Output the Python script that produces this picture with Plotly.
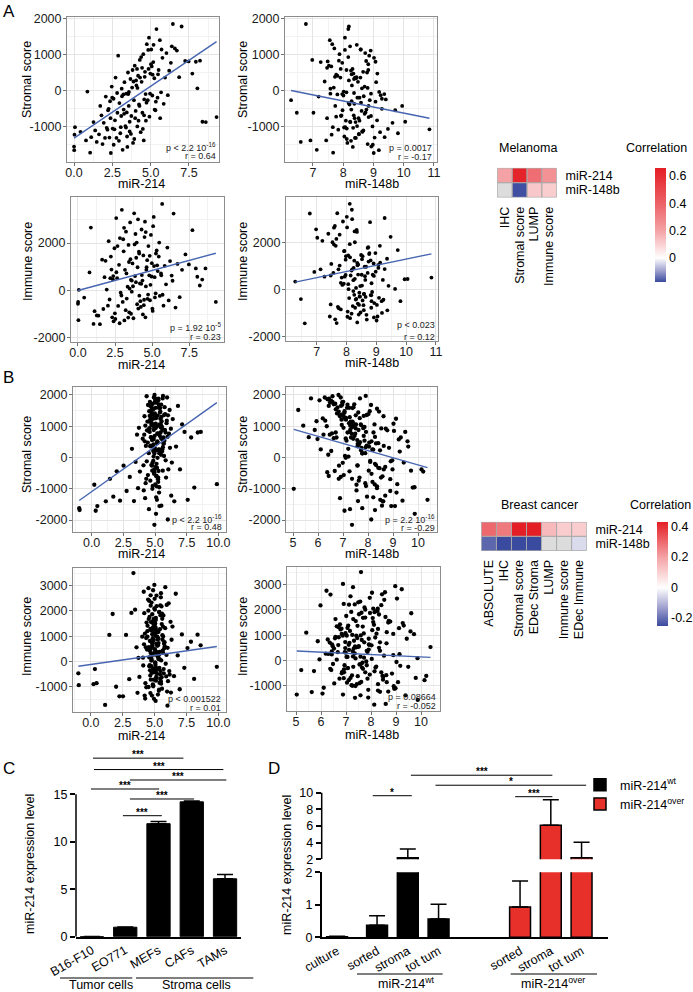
import numpy as np
import plotly.graph_objects as go

W, H = 693, 992
FONT = "Liberation Sans, Arial, sans-serif"

# ---------------- A: melanoma samples ----------------
mel_mir214 = [
    0.00, 0.03, 0.01, 0.06, 0.42, 0.78, 0.87, 1.12, 1.27, 1.48,
    1.63, 1.71, 1.86, 1.94, 2.07, 2.13, 2.22, 2.31, 2.38, 2.46,
    2.52, 2.58, 2.64, 2.71, 2.77, 2.83, 2.88, 2.96, 3.02, 3.08,
    3.13, 3.17, 3.24, 3.29, 3.35, 3.41, 3.46, 3.52, 3.57, 3.63,
    3.68, 3.74, 3.79, 3.85, 3.91, 3.96, 4.02, 4.07, 4.13, 4.18,
    4.24, 4.29, 4.35, 4.41, 4.46, 4.52, 4.58, 4.63, 4.69, 4.75,
    4.81, 4.86, 4.92, 4.98, 5.04, 5.11, 5.17, 5.24, 5.31, 5.38,
    5.45, 5.52, 5.60, 5.68, 5.77, 5.85, 5.94, 6.03, 6.12, 6.21,
    6.32, 6.45, 6.58, 6.71, 6.86, 7.02, 7.25, 7.48, 7.72, 7.95,
    8.05, 8.22, 8.38, 8.60, 9.30, 1.05, 2.40, 3.48, 4.55, 5.62,
    2.18, 2.49, 2.67, 2.93, 3.11, 3.27, 3.39, 3.54, 3.71, 3.88,
    3.99, 4.11, 4.27, 4.38, 4.49, 4.61, 4.73, 4.84, 4.96, 5.07,
    5.19, 5.34, 5.48, 3.22, 3.63, 4.05, 4.44, 2.59, 2.81, 3.44,
    3.82, 4.21, 4.67, 5.02, 2.35, 3.05, 3.58, 4.31, 4.89, 5.26,
    1.38, 1.79, 2.02, 2.26, 3.93, 4.14, 4.57, 5.13, 5.71, 6.38]
mel_stromal = [
    -1550, -1220, -1650, -1010, -1140, -1380, -20, -1290, -870, -1420,
    -1210, -420, -1480, -890, -160, -1030, -540, -1300, -760, 120,
    -1050, -220, -1070, 370, -1310, -610, 980, -340, -1180, -700,
    -150, -1640, -520, 240, -980, -80, -1270, 510, -420, -860,
    330, -700, 90, -1450, -260, 700, -560, 150, -990, 420,
    -380, 860, -1150, 250, -610, 1020, -240, 530, -830, 1300,
    -260, 610, -720, 480, 1150, -130, 800, 350, -540, 1720,
    -190, 580, 1410, -40, 920, -360, 370, 1050, -120, 560,
    780, 1860, 1180, 1120, 380, 1790, 830, 820, 480, 810,
    70, 840, -860, -870, -730, -1720, -1730, -1560, -1380, -760,
    -1080, -190, -820, -1390, 60, -640, -1020, -90, -1200, 260,
    -760, 610, -420, 940, -1060, 390, -330, 1140, -80, 680,
    1280, -300, 460, -100, -1130, 290, 640, -1500, -60, -600,
    580, -830, -90, 740, -290, -1010, -30, 370, 1480, -520,
    -1100, -680, -1310, -500, -1340, 80, -680, 450, 1150, 1240]
mel_mir148b = [
    8.93, 7.62, 9.18, 8.07, 8.64, 6.92, 8.02, 9.37, 8.41, 6.60,
    8.52, 7.74, 8.81, 9.63, 7.19, 8.33, 7.98, 9.04, 7.47, 8.71,
    8.12, 9.28, 10.85, 8.57, 8.39, 7.02, 8.86, 8.18, 9.81, 7.93,
    8.68, 7.13, 8.27, 9.09, 8.46, 7.58, 8.04, 8.79, 9.95, 8.23,
    8.36, 8.92, 7.69, 8.14, 6.28, 7.53, 8.61, 8.29, 8.97, 7.81,
    8.21, 6.98, 9.22, 8.49, 6.47, 7.88, 9.41, 8.66, 8.09, 7.64,
    8.88, 8.31, 7.77, 9.13, 8.58, 8.01, 7.26, 8.43, 9.72, 8.17,
    8.54, 8.83, 7.56, 8.11, 9.02, 8.37, 7.91, 8.73, 9.24, 8.26,
    7.97, 6.77, 7.71, 8.91, 8.44, 8.19, 8.76, 7.49, 8.34, 9.07,
    8.62, 7.86, 10.05, 8.24, 8.84, 7.67, 9.01, 8.32, 7.44, 8.51,
    7.84, 8.47, 9.12, 8.26, 7.58, 8.71, 8.03, 9.36, 8.52, 7.39,
    8.38, 7.92, 8.84, 8.17, 9.48, 7.73, 8.59, 8.06, 8.92, 7.61,
    8.45, 9.07, 8.28, 7.81, 8.63, 8.19, 7.47, 8.98, 8.36, 8.74,
    8.11, 8.54, 7.97, 8.83, 8.28, 7.66, 9.19, 8.39, 8.06, 8.77,
    8.67, 7.94, 8.42, 9.28, 8.12, 8.81, 8.35, 7.77, 8.58, 8.23]
mel_immune = [
    -560, -1250, -480, 30, -300, 760, 2650, -870, -1050, -1420,
    1300, -780, 1250, 40, 2080, -380, 1430, -1130, 610, 1780,
    -1200, 3050, 520, -650, 1080, 2210, -90, 3400, -480, 1650,
    -1260, 870, 2480, -340, 160, 1920, -920, 2870, 450, -50,
    1140, -1170, 3250, 610, 350, 2020, 980, -760, 1560, 300,
    -690, 2570, 420, 1480, -390, 2900, 170, 980, -350, 1870,
    640, -410, 2340, 1150, -860, 3100, 560, -120, 1690, 820,
    1430, -230, 720, 3650, -640, 1040, 260, 1810, -420, 1240,
    630, 3240, -720, 1120, -280, 870, 1520, 1100, 2540, 930,
    580, 210, 460, 930, -480, -1410, -1300, 80, -1130, 640,
    520, -960, 1870, -210, 2640, 720, -1140, 1320, 180, 2380,
    -580, 1640, 280, -1010, 2250, 870, -170, 1460, 590, 2710,
    -290, 1060, 2020, -830, 420, 3000, -620, 770, -1380, 1200,
    1940, -450, 1280, -760, 470, 2160, -980, 650, 240, 1560,
    -1060, 560, -640, 880, 1380, -220, 2460, 1030, -180, 410]

# ---------------- B: breast cancer samples ----------------
brca_mir214 = [
    4.62, 5.13, 4.87, 5.41, 4.35, 5.78, 4.98, 5.25, 4.71, 5.56,
    5.07, 4.44, 5.69, 4.93, 5.32, 4.15, 6.02, 4.76, 5.18, 5.87,
    4.54, 5.47, 4.82, 5.95, 4.28, 5.03, 5.61, 4.67, 5.29, 6.18,
    4.09, 5.36, 4.95, 5.74, 4.49, 5.15, 4.73, 5.52, 6.25, 4.89,
    5.22, 4.58, 5.84, 4.31, 5.01, 5.66, 4.80, 5.39, 4.19, 5.93,
    4.66, 5.10, 4.40, 5.58, 4.96, 5.33, 6.10, 4.84, 5.71, 4.24,
    5.49, 4.70, 5.05, 4.11, 5.80, 4.51, 5.26, 6.33, 4.90, 5.63,
    4.98, 5.17, 4.63, 5.42, 4.86, 5.76, 4.37, 5.09, 5.54, 4.74,
    5.28, 4.45, 5.91, 4.81, 5.14, 4.26, 5.67, 5.00, 4.57, 6.05,
    4.03, 5.35, 4.93, 5.60, 4.69, 5.20, 6.15, 4.43, 5.83, 5.06,
    4.79, 5.45, 4.17, 5.12, 4.60, 5.72, 4.88, 5.31, 4.34, 5.98,
    -0.98, -0.95, 0.32, 0.45, 0.21, 1.12, 1.45, 1.71, 1.98, 2.24,
    2.52, 2.76, 3.01, 3.18, 3.34, 3.47, 3.58, 3.66, 3.73, 3.81,
    6.40, 6.52, 6.66, 6.81, 6.97, 7.14, 7.33, 7.58, 7.85, 8.10,
    8.37, 8.61, 9.88, 4.95, 6.01, 4.52, 6.28, 5.08, 4.22, 5.50,
    4.58, 5.21, 4.92, 5.46, 4.83, 5.11, 4.67, 5.38, 5.02, 4.75,
    5.30, 4.88, 5.15, 4.71, 5.55, 4.99, 5.24, 4.53, 5.62, 5.09,
    4.81, 5.36, 4.64, 5.18, 4.94, 5.51, 4.76, 5.27, 5.04, 4.86,
    5.42, 4.97, 5.13, 4.69, 5.33, 4.91, 5.58, 4.78, 5.06, 5.19,
    4.72, 5.25, 4.85, 5.44, 5.00, 4.62, 5.31, 5.12, 4.89, 5.67,
    5.03, 4.95, 5.37, 4.81, 5.16, 4.55, 5.49, 5.08, 4.74, 5.29]
brca_stromal = [
    1210, -340, 620, 1580, -120, 880, 310, -780, 1040, 190,
    1760, -560, 450, 980, -1120, 730, 1350, -260, 520, -640,
    1480, 90, -910, 1920, 370, 1290, -420, 650, 1700, 310,
    -250, 1060, -470, 540, 850, -1350, 1600, 1160, 920, 30,
    770, 1330, -90, -680, 1890, 640, -170, 1440, 520, 1180,
    380, -600, 1150, 260, 2000, -950, 760, 1560, 50, 1020,
    1690, 640, -300, -1050, 1390, 140, 1830, -160, 880, 1970,
    1320, 460, -740, 1240, 210, 1610, 870, -1270, 590, 1430,
    -430, 1680, 1100, 350, 1000, -820, 440, 1770, 930, -380,
    600, -1550, 1250, 1890, 1470, -10, 1520, 480, 800, 1080,
    -1000, 960, 1320, -590, 1780, 1360, 580, 230, 1960, 660,
    -1620, -1680, -1700, -1550, -870, -1400, -680, -1250, -440, -1380,
    -260, -1070, -620, 280, -1390, -140, 730, -980, 950, -450,
    1230, -1400, 350, 1650, -380, 1060, 820, -1350, 640, -960,
    800, 820, -850, -2150, -1980, -1650, -1220, -1800, -1300, -1540,
    820, 1340, -520, 1060, 1720, 230, 1480, 690, -860, 1210,
    1590, 420, 1860, -240, 980, 1410, -690, 1150, 330, 1780,
    1030, 250, 1650, 760, -380, 1300, 560, 1880, 940, -110,
    1470, 690, -920, 1270, 140, 1920, 880, -420, 1590, 490,
    1110, -640, 1540, 800, 1360, 360, 1690, -200, 1060, 540,
    1820, 130, 1020, 1380, -330, 930, 610, 1260, 1700, 260]
brca_mir148b = [
    7.12, 8.46, 6.63, 7.38, 8.91, 5.87, 7.74, 8.18, 6.95, 9.27,
    6.48, 7.03, 8.32, 7.86, 9.14, 6.22, 7.51, 6.84, 9.58, 7.66,
    8.07, 6.41, 7.92, 6.91, 8.63, 7.27, 9.72, 5.63, 7.45, 8.84,
    7.58, 8.26, 6.37, 7.14, 9.04, 8.49, 6.78, 5.94, 8.71, 7.22,
    6.56, 7.83, 8.97, 7.36, 5.72, 9.31, 6.99, 7.61, 8.14, 6.29,
    7.95, 8.58, 7.31, 6.11, 6.82, 9.86, 7.49, 8.36, 7.08, 5.41,
    7.18, 6.74, 8.69, 7.54, 8.02, 7.77, 6.06, 9.43, 7.29, 7.91,
    6.88, 8.41, 7.63, 9.12, 6.53, 7.42, 8.77, 8.21, 5.98, 7.06,
    6.67, 8.12, 7.24, 9.61, 6.35, 7.89, 7.59, 6.97, 8.53, 10.14,
    7.41, 8.93, 6.19, 7.68, 8.44, 7.11, 5.21, 8.05, 6.71, 9.02,
    5.03, 7.35, 8.62, 6.43, 7.01, 6.92, 9.23, 7.72, 6.58, 8.28,
    7.77, 8.28, 7.06, 9.08, 7.54, 8.59, 6.83, 7.96, 7.26, 9.38,
    7.58, 8.89, 6.91, 7.21, 7.60, 8.09, 6.47, 8.36, 7.02, 10.21,
    7.09, 8.61, 8.04, 6.43, 8.98, 7.71, 9.49, 10.38, 7.32, 9.79,
    8.22, 7.92, 9.17, 7.36, 8.13, 7.28, 8.69, 9.87, 6.88, 8.56,
    7.28, 6.87, 8.14, 7.52, 6.69, 8.48, 7.06, 7.83, 8.27, 6.94,
    7.16, 7.64, 6.38, 8.32, 7.47, 6.76, 8.89, 7.38, 7.91, 6.58,
    7.73, 8.21, 6.92, 7.35, 8.63, 7.04, 7.57, 6.44, 7.81, 8.09,
    6.83, 7.46, 8.36, 7.12, 7.89, 6.27, 7.62, 8.03, 7.25, 7.68,
    7.39, 8.52, 6.71, 7.18, 7.95, 7.58, 6.97, 8.28, 7.43, 7.86,
    6.52, 7.77, 7.29, 6.98, 8.41, 7.51, 7.11, 7.67, 6.63, 8.17]
brca_immune = [
    420, -610, 1350, 80, -1020, 760, 2100, -280, 330, 1480,
    -140, 980, 1820, -720, 250, 2760, 540, -460, 1150, -90,
    1680, -380, 620, 2240, -860, 370, 1040, -1250, 890, -520,
    150, 1960, -330, 700, 2450, -640, 1230, 40, 1570, -980,
    880, -190, 2940, 560, -420, 1380, 310, -850, 1910, 260,
    -560, 1720, 470, -1080, 1260, 90, 2300, 720, -300, 1100,
    2540, -720, 1500, -160, 600, 2010, -1310, 860, 1640, 430,
    3030, -470, 810, 1280, -910, 520, 1540, -240, 2180, 140,
    330, 1410, -590, 1870, 710, -1470, 990, 490, 2400, -780,
    980, -1120, 270, 1690, 2620, 620, -380, 1200, 1320, -60,
    -1350, 2220, 680, 360, 1760, -470, 2820, 110, 930, -1190,
    -470, -940, -300, -860, -900, -1720, 1050, 1880, -1000, -1380,
    -1380, 1050, -700, 1920, 3500, 2050, 560, -1240, 140, -610,
    1380, -580, 2680, 240, -1100, 1070, -250, 530, 780, -690,
    1060, 640, -210, -1480, -1750, 2900, -1230, -1560, -1350, 2700,
    160, 980, -430, 1830, 610, -760, 1290, 380, 2050, -190,
    1170, -280, 2610, 500, -620, 1430, 210, -1010, 860, 1640,
    720, 1950, -350, 280, 1120, -880, 2330, 640, -40, 1520,
    -510, 1370, 380, 2210, -1160, 830, 1890, 60, 1010, -330,
    1560, 190, 920, -690, 2480, -150, 730, 1250, -940, 340,
    470, 1700, -250, 1080, 2190, 570, -780, 1340, 30, 910]

# fitted lines (intercept, slope)
fit_mel_stromal_214 = (-1317, 289)
fit_mel_stromal_148b = (1071, -169)
fit_mel_immune_214 = (0, 169)
fit_mel_immune_148b = (-1315, 262)
fit_brca_stromal_214 = (-1092, 288)
fit_brca_stromal_148b = (2050, -228.5)
fit_brca_immune_214 = (-121, 72)
fit_brca_immune_148b = (616, -47.4)

stats_p = ["p < 2.2 10<sup>-16</sup>", "p = 0.0017", "p = 1.92 10<sup>-5</sup>", "p < 0.023",
           "p < 2.2 10<sup>-16</sup>", "p = 2.2 10<sup>-16</sup>", "p < 0.001522", "p = 0.08664"]
stats_r = ["r = 0.64", "r = -0.17", "r = 0.23", "r = 0.12",
           "r = 0.48", "r = -0.29", "r = 0.01", "r = -0.052"]

# correlation heatmaps
mel_cols = ["IHC", "Stromal score", "LUMP", "Immune score"]
mel_corr_214 = [0.20, 0.64, 0.36, 0.25]
mel_corr_148b = [None, -0.17, 0.12, 0.11]
brca_cols = ["ABSOLUTE", "IHC", "Stromal score", "EDec Stroma", "LUMP", "Immune score", "EDec Immune"]
brca_corr_214 = [0.30, 0.27, 0.45, 0.46, 0.15, 0.11, 0.11]
brca_corr_148b = [-0.21, -0.27, -0.28, -0.29, None, None, -0.05]
heat_rows = ["miR-214", "miR-148b"]

# C: miR-214 in cell lines
c_cells = ["B16-F10", "EO771", "MEFs", "CAFs", "TAMs"]
c_expr = [0.01, 1.0, 11.9, 14.2, 6.1]
c_err = [0.0, 0.03, 0.22, 0.08, 0.45]

# D: sorted stroma / tumours
d_wt_labels = ["culture", "sorted", "stroma", "tot tum"]
d_wt_expr = [0.02, 0.37, 2.2, 0.56]
d_wt_err = [0.01, 0.29, 1.04, 0.46]
d_over_labels = ["sorted", "stroma", "tot tum"]
d_over_expr = [0.93, 6.1, 2.2]
d_over_err = [0.80, 3.05, 1.85]


# ---------------- helpers ----------------
def dom_x(a, b):
    return [a / W, b / W]


def dom_y(top, bottom):
    return [1 - bottom / H, 1 - top / H]


annotations = []
shapes = []


def text(t, x, y, size=12.5, color="black", **kw):
    d = dict(text=t, x=x / W, y=1 - y / H, xref="paper", yref="paper", showarrow=False,
             xanchor="center", yanchor="middle", font=dict(size=size, family=FONT, color=color))
    d.update(kw)
    annotations.append(d)


def pline(x0, x1, y, width=1):
    shapes.append(dict(type="line", xref="paper", yref="paper", x0=x0 / W, x1=x1 / W,
                       y0=1 - y / H, y1=1 - y / H, line=dict(color="black", width=width)))


def grid_axis(ticks, labels, standoff=0):
    step = ticks[1] - ticks[0]
    minor = [ticks[0] - step / 2] + [t + step / 2 for t in ticks]
    return dict(tickvals=ticks, ticktext=labels, showgrid=True, gridcolor="#E4E4E4", gridwidth=0.8,
                minor=dict(tickvals=minor, showgrid=True, gridcolor="#F2F2F2", gridwidth=0.6),
                showline=True, mirror=True, linecolor="#8C8C8C", linewidth=1,
                ticks="outside", ticklen=3, tickcolor="#707070", tickwidth=1, automargin=False,
                ticklabelstandoff=standoff,
                tickfont=dict(size=12.5, color="#1A1A1A", family=FONT), zeroline=False)


fig = go.Figure()
lay = dict(template="none", width=W, height=H, autosize=False, margin=dict(l=0, r=0, t=0, b=0, pad=0),
           paper_bgcolor="white", plot_bgcolor="white", barmode="overlay",
           font=dict(family=FONT, size=12.5, color="black"))

t_a_top = [-1000, 0, 1000, 2000]
t_a_bot = [-2000, 0, 2000]
t_b_top = [-2000, -1000, 0, 1000, 2000]
t_b_bot = [-1000, 0, 1000, 2000, 3000]
x214_a = ([0, 2.5, 5, 7.5], ["0.0", "2.5", "5.0", "7.5"])
x148_a = ([7, 8, 9, 10, 11], ["7", "8", "9", "10", "11"])
x214_b = ([0, 2.5, 5, 7.5, 10], ["0.0", "2.5", "5.0", "7.5", "10.0"])
x148_b = ([5, 6, 7, 8, 9, 10], ["5", "6", "7", "8", "9", "10"])

panels = [
    dict(x=mel_mir214, y=mel_stromal, fit=fit_mel_stromal_214, xpx=(67, 219), ypx=(17, 162),
         xr=(-0.46, 9.46), yr=(-1980, 2055), xt=x214_a, yt=t_a_top, xl="miR-214", yl="Stromal score",
         xlp=(141.7, 184), ylp=(27, 80), st=(218, 146.7, 155.7), ms=3.8),
    dict(x=mel_mir148b, y=mel_stromal, fit=fit_mel_stromal_148b, xpx=(285, 437), ypx=(17, 162),
         xr=(6.08, 11.1), yr=(-1980, 2055), xt=x148_a, yt=t_a_top, xl="miR-148b", yl="Stromal score",
         xlp=(371.7, 184), ylp=(243, 80), st=(434.3, 147.7, 157.3), ms=3.8),
    dict(x=mel_mir214, y=mel_immune, fit=fit_mel_immune_214, xpx=(71, 224), ypx=(197, 342),
         xr=(-0.47, 9.85), yr=(-2170, 3940), xt=x214_a, yt=t_a_bot, xl="miR-214", yl="Immune score",
         xlp=(141.7, 365), ylp=(28, 262), st=(222.7, 327.3, 337.3), ms=3.8),
    dict(x=mel_mir148b, y=mel_immune, fit=fit_mel_immune_148b, xpx=(286, 438), ypx=(197, 341),
         xr=(5.97, 11.07), yr=(-2170, 3940), xt=x148_a, yt=t_a_bot, xl="miR-148b", yl="Immune score",
         xlp=(371.7, 363), ylp=(243, 262), st=(436.7, 325, 336.7), ms=3.8),
    dict(x=brca_mir214, y=brca_stromal, fit=fit_brca_stromal_214, xpx=(73, 226), ypx=(387, 532),
         xr=(-1.47, 10.6), yr=(-2380, 2255), xt=x214_b, yt=t_b_top, xl="miR-214", yl="Stromal score",
         xlp=(141.7, 554), ylp=(27, 455), st=(224, 519, 527.3), ms=4.3),
    dict(x=brca_mir148b, y=brca_stromal, fit=fit_brca_stromal_148b, xpx=(286, 437), ypx=(387, 532),
         xr=(4.72, 10.76), yr=(-2380, 2255), xt=x148_b, yt=t_b_top, xl="miR-148b", yl="Stromal score",
         xlp=(371.7, 554), ylp=(243, 455), st=(437.3, 519, 528.3), ms=4.3),
    dict(x=brca_mir214, y=brca_immune, fit=fit_brca_immune_214, xpx=(73, 226), ypx=(568, 712),
         xr=(-1.4, 10.6), yr=(-2000, 3700), xt=x214_b, yt=t_b_bot, xl="miR-214", yl="Immune score",
         xlp=(141.7, 736), ylp=(27, 637), st=(223.3, 699, 708.3), ms=4.3),
    dict(x=brca_mir148b, y=brca_immune, fit=fit_brca_immune_148b, xpx=(287, 440), ypx=(567, 711),
         xr=(4.64, 10.76), yr=(-2000, 3700), xt=x148_b, yt=t_b_bot, xl="miR-148b", yl="Immune score",
         xlp=(371.7, 735), ylp=(243, 637), st=(438.3, 696.7, 706), ms=4.3),
]

for i, p in enumerate(panels, start=1):
    s = "" if i == 1 else str(i)
    xs = np.array(p["x"], dtype=float)
    ys = np.array(p["y"], dtype=float)
    fig.add_trace(go.Scatter(x=xs, y=ys, mode="markers", marker=dict(color="black", size=p["ms"]),
                             xaxis="x" + s, yaxis="y" + s, showlegend=False, hoverinfo="skip"))
    a, b = p["fit"]
    fx = np.array([xs.min(), xs.max()])
    fig.add_trace(go.Scatter(x=fx, y=a + b * fx, mode="lines", line=dict(color="#4765B0", width=1.4),
                             xaxis="x" + s, yaxis="y" + s, showlegend=False, hoverinfo="skip"))
    lay["xaxis" + s] = dict(domain=dom_x(*p["xpx"]), range=list(p["xr"]), anchor="y" + s,
                            **grid_axis(p["xt"][0], p["xt"][1], standoff=-4))
    lay["yaxis" + s] = dict(domain=dom_y(*p["ypx"]), range=list(p["yr"]), anchor="x" + s,
                            **grid_axis(p["yt"], [str(v) for v in p["yt"]], standoff=-1))
    text(p["xl"], p["xlp"][0], p["xlp"][1])
    text(p["yl"], p["ylp"][0], p["ylp"][1], textangle=-90)
    text(stats_p[i - 1], p["st"][0], p["st"][1], size=9, color="#222", xanchor="right")
    text(stats_r[i - 1], p["st"][0], p["st"][2], size=9, color="#222", xanchor="right")


# ---------------- heatmaps ----------------
def make_scale(zmin, zmax, stops):
    return [[(v - zmin) / (zmax - zmin), c] for v, c in stops]


def heatmap(idx, cols, r214, r148, xpx, ypx, zmin, zmax, stops, cb):
    s = str(idx)
    z = [r214, r148]
    na = [[1 if v is None else None for v in row] for row in z]
    fig.add_trace(go.Heatmap(z=na, x=cols, y=heat_rows, colorscale=[[0, "#DCDCDC"], [1, "#DCDCDC"]],
                             zmin=0, zmax=1, showscale=False, xaxis="x" + s, yaxis="y" + s, hoverinfo="skip"))
    fig.add_trace(go.Heatmap(z=z, x=cols, y=heat_rows, zmin=zmin, zmax=zmax,
                             colorscale=make_scale(zmin, zmax, stops), colorbar=cb,
                             xaxis="x" + s, yaxis="y" + s, hoverinfo="skip"))
    lay["xaxis" + s] = dict(domain=dom_x(*xpx), anchor="y" + s, type="category", tickangle=-90,
                            tickmode="array", tickvals=cols, ticktext=cols, automargin=False,
                            ticks="outside", ticklen=3, tickcolor="rgba(0,0,0,0)", showgrid=False,
                            zeroline=False, showline=False, tickfont=dict(size=12.5, family=FONT))
    lay["yaxis" + s] = dict(domain=dom_y(*ypx), anchor="x" + s, type="category", autorange="reversed",
                            tickmode="array", tickvals=heat_rows, ticktext=heat_rows, automargin=False,
                            side="right", ticks="outside", ticklen=5, tickcolor="rgba(0,0,0,0)",
                            showgrid=False, zeroline=False, showline=False,
                            tickfont=dict(size=12.5, family=FONT))
    for ci in range(len(cols)):
        for ri in range(len(heat_rows)):
            shapes.append(dict(type="rect", xref="x" + s, yref="y" + s, x0=ci - 0.5, x1=ci + 0.5,
                               y0=ri - 0.5, y1=ri + 0.5, line=dict(color="#A9A9A9", width=0.8)))


def colorbar(xpx, top, length, ticks):
    return dict(x=xpx / W, xanchor="left", y=1 - top / H, yanchor="top", len=length, lenmode="pixels",
                thickness=11, thicknessmode="pixels", xpad=0, ypad=0, outlinewidth=0,
                tickvals=ticks, ticktext=[("%g" % t) for t in ticks], ticks="",
                tickfont=dict(size=12.5, family=FONT))


heatmap(9, mel_cols, mel_corr_214, mel_corr_148b, (497, 557), (167.7, 197.7), -0.175, 0.658,
        [(-0.175, "#3A4A9E"), (-0.09, "#A3A4D0"), (0, "#FFFFFF"), (0.2, "#F4A2A5"),
         (0.4, "#EC6166"), (0.658, "#E41E25")],
        colorbar(655, 168, 114, [0, 0.2, 0.4, 0.6]))
heatmap(10, brca_cols, brca_corr_214, brca_corr_148b, (481, 587), (521.7, 551), -0.25, 0.43,
        [(-0.25, "#3A4A9E"), (-0.125, "#A3A4D0"), (0, "#FFFFFF"), (0.2, "#F4A2A5"), (0.43, "#E41E25")],
        colorbar(657, 521.7, 104, [-0.2, 0, 0.2, 0.4]))
text("Melanoma", 528, 148)
text("Correlation", 656, 148)
text("Breast cancer", 539, 505)
text("Correlation", 660, 505)

# ---------------- C ----------------
err_style = dict(type="data", symmetric=False, color="black", thickness=1.5, width=8)
fig.add_trace(go.Bar(x=c_cells, y=c_expr, width=0.7,
                     error_y=dict(array=c_err, arrayminus=[0] * len(c_err), **err_style),
                     marker=dict(color="black", line=dict(color="black", width=1)),
                     xaxis="x11", yaxis="y11", showlegend=False, hoverinfo="skip"))
lay["xaxis11"] = dict(domain=dom_x(76, 241), range=[-0.48, 4.48], anchor="y11", type="category",
                      showline=True, linecolor="black", linewidth=1.5, ticks="", tickangle=-30,
                      showgrid=False, zeroline=False, automargin=False, tickfont=dict(size=12.5, family=FONT))
lay["yaxis11"] = dict(domain=dom_y(751.5, 936.7), range=[0, 19.5], anchor="x11",
                      tickvals=[0, 5, 10, 15], ticktext=["0", "5", "10", "15"], ticks="outside",
                      ticklen=5, tickwidth=1.5, tickcolor="black", showline=False, showgrid=False,
                      zeroline=False, automargin=False, tickfont=dict(size=12.5, family=FONT))
shapes.append(dict(type="line", xref="x11 domain", yref="y11", x0=0, x1=0, y0=0, y1=15,
                   line=dict(color="black", width=1.5)))
c_sig = [(0.03, 2.75, 18.8), (0.06, 3.95, 17.6), (1.14, 4.04, 16.5),
         (-0.03, 2.02, 15.55), (1.14, 3.07, 14.5), (0.93, 2.1, 12.74)]
for x0, x1, y in c_sig:
    shapes.append(dict(type="line", xref="x11", yref="y11", x0=x0, x1=x1, y0=y, y1=y,
                       line=dict(color="black", width=1)))
    annotations.append(dict(text="<b>***</b>", x=(x0 + x1) / 2, y=y, xref="x11", yref="y11", showarrow=False,
                            xanchor="center", yanchor="bottom", yshift=-4,
                            font=dict(size=10, family=FONT, color="black")))
text("miR-214 expression level", 30, 864, textangle=-90)
pline(60, 132.3, 978)
pline(136, 253.3, 978)
text("Tumor cells", 101, 985)
text("Stroma cells", 196, 985)

# ---------------- D (broken y axis) ----------------
wt_pos = np.arange(len(d_wt_labels)) + np.r_[0, [0.3] * (len(d_wt_labels) - 1)]
over_pos = wt_pos[-1] + 2.65 + np.arange(len(d_over_labels))
for s, leg in (("12", True), ("13", False)):
    fig.add_trace(go.Bar(x=wt_pos, y=d_wt_expr, width=0.68, name="miR-214<sup>wt</sup>",
                         error_y=dict(array=d_wt_err, arrayminus=[0] * len(d_wt_err), **err_style),
                         marker=dict(color="black", line=dict(color="black", width=1.5)),
                         xaxis="x" + s, yaxis="y" + s, showlegend=leg, hoverinfo="skip"))
    fig.add_trace(go.Bar(x=over_pos, y=d_over_expr, width=0.68, name="miR-214<sup>over</sup>",
                         error_y=dict(array=d_over_err, arrayminus=[0] * len(d_over_err), **err_style),
                         marker=dict(color="#E8302A", line=dict(color="black", width=1.5)),
                         xaxis="x" + s, yaxis="y" + s, showlegend=leg, hoverinfo="skip"))
lay["xaxis12"] = dict(domain=dom_x(321.7, 607.7), range=[-0.5, 8.8], anchor="y12",
                      tickvals=list(wt_pos) + list(over_pos), ticktext=d_wt_labels + d_over_labels,
                      tickangle=-30, ticks="", showline=True, linecolor="black", linewidth=1.5,
                      showgrid=False, zeroline=False, automargin=False, tickfont=dict(size=12.5, family=FONT))
lay["yaxis12"] = dict(domain=dom_y(872.3, 937.3), range=[0, 2], anchor="x12", tickvals=[0, 1, 2],
                      ticktext=["0", "1", "2"], ticks="outside", ticklen=5, tickwidth=1.5, tickcolor="black",
                      showline=True, linecolor="black", linewidth=1.5, showgrid=False, zeroline=False,
                      automargin=False, tickfont=dict(size=12.5, family=FONT))
lay["xaxis13"] = dict(domain=dom_x(321.7, 607.7), range=[-0.5, 8.8], anchor="y13", visible=False,
                      automargin=False)
lay["yaxis13"] = dict(domain=dom_y(771.9, 859.3), range=[2, 12.5], anchor="x13",
                      tickvals=[2, 4, 6, 8, 10], ticktext=["2", "4", "6", "8", "10"], ticks="outside",
                      ticklen=5, tickwidth=1.5, tickcolor="black", showline=False, showgrid=False,
                      zeroline=False, automargin=False, tickfont=dict(size=12.5, family=FONT))
shapes.append(dict(type="line", xref="x13 domain", yref="y13", x0=0, x1=0, y0=2, y1=10,
                   line=dict(color="black", width=1.5)))
d_sig = [(2.4, 7.0, 12.1, "***"), (3.2, 8.1, 10.9, "*"), (1.16, 2.43, 9.64, "*"), (5.79, 7.0, 9.52, "***")]
for x0, x1, y, lab in d_sig:
    shapes.append(dict(type="line", xref="x13", yref="y13", x0=x0, x1=x1, y0=y, y1=y,
                       line=dict(color="black", width=1)))
    annotations.append(dict(text="<b>" + lab + "</b>", x=(x0 + x1) / 2, y=y, xref="x13", yref="y13",
                            showarrow=False, xanchor="center", yanchor="bottom", yshift=-4,
                            font=dict(size=10, family=FONT, color="black")))
text("miR-214 expression level", 287, 865, textangle=-90)
pline(357, 442.7, 974)
pline(510.7, 597, 974)
text("miR-214<sup>wt</sup>", 406.7, 983)
text("miR-214<sup>over</sup>", 553, 983)
lay["legend"] = dict(x=580 / W, y=1 - 770 / H, xanchor="left", yanchor="top", bgcolor="rgba(0,0,0,0)",
                     font=dict(size=12.5, family=FONT), tracegroupgap=0, borderwidth=0)

# panel letters
text("A", 1, 11, size=17, xanchor="left")
text("B", 1, 377, size=17, xanchor="left")
text("C", 1, 768, size=17, xanchor="left")
text("D", 266, 768, size=17, xanchor="left")

lay["annotations"] = annotations
lay["shapes"] = shapes
fig.update_layout(**lay)
fig.write_html("out.html", config={"displayModeBar": False},
               post_script="document.body.style.margin='0';")
